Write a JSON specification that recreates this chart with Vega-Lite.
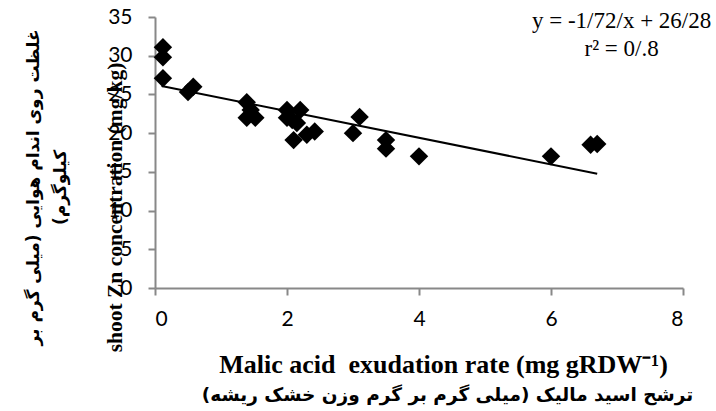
{
  "$schema": "https://vega.github.io/schema/vega-lite/v6.json",
  "width": 528,
  "height": 271,
  "autosize": {"type": "none"},
  "padding": {"left": 155, "top": 17, "right": 33, "bottom": 123},
  "background": "white",
  "config": {"view": {"stroke": null}},
  "datasets": {
    "points": [
      {"rate": 0.12, "zn": 31.1}, {"rate": 0.12, "zn": 29.8}, {"rate": 0.12, "zn": 27.1},
      {"rate": 0.5, "zn": 25.3}, {"rate": 0.58, "zn": 26.0},
      {"rate": 1.39, "zn": 24.0}, {"rate": 1.45, "zn": 23.0}, {"rate": 1.39, "zn": 22.0}, {"rate": 1.52, "zn": 22.0},
      {"rate": 2.0, "zn": 23.0}, {"rate": 2.2, "zn": 23.0}, {"rate": 2.0, "zn": 22.0}, {"rate": 2.08, "zn": 21.7},
      {"rate": 2.15, "zn": 21.3}, {"rate": 2.1, "zn": 19.1}, {"rate": 2.3, "zn": 19.8}, {"rate": 2.42, "zn": 20.2},
      {"rate": 3.1, "zn": 22.1}, {"rate": 3.0, "zn": 20.0},
      {"rate": 3.5, "zn": 19.1}, {"rate": 3.5, "zn": 18.0},
      {"rate": 4.0, "zn": 17.0}, {"rate": 6.0, "zn": 17.0},
      {"rate": 6.6, "zn": 18.5}, {"rate": 6.7, "zn": 18.6}
    ],
    "trend": [
      {"rate": 0.1, "zn": 26.1},
      {"rate": 6.7, "zn": 14.76}
    ],
    "note": [
      {"label": "equation"}
    ]
  },
  "layer": [
    {
      "data": {"name": "points"},
      "mark": {"type": "point", "shape": "diamond", "filled": true, "color": "black", "opacity": 1, "size": 340},
      "encoding": {
        "x": {
          "field": "rate", "type": "quantitative",
          "scale": {"domain": [0, 8], "nice": false, "zero": true},
          "axis": {
            "orient": "bottom", "values": [0, 2, 4, 6, 8], "grid": false,
            "domainColor": "#888888", "domainWidth": 2, "tickColor": "#888888", "tickWidth": 2, "tickSize": 7,
            "labelFont": "Lato", "labelFontSize": 21, "labelColor": "#000000", "labelPadding": 13,
            "title": "Malic acid\u00a0 exudation rate (mg gRDW⁻¹)",
            "titleFont": "Liberation Serif", "titleFontWeight": "bold", "titleFontSize": 26, "titleColor": "#000000",
            "titleX": 288, "titleY": 84, "titleBaseline": "alphabetic", "titleAlign": "center"
          }
        },
        "y": {
          "field": "zn", "type": "quantitative",
          "scale": {"domain": [0, 35], "nice": false, "zero": true},
          "axis": {
            "orient": "left", "values": [0, 5, 10, 15, 20, 25, 30, 35], "grid": false,
            "domainColor": "#888888", "domainWidth": 2, "tickColor": "#888888", "tickWidth": 2, "tickSize": 7,
            "labelFont": "Lato", "labelFontSize": 21, "labelColor": "#000000", "labelPadding": 16,
            "title": "shoot Zn concentration (mg/kg)",
            "titleFont": "Liberation Serif", "titleFontWeight": "bold", "titleFontSize": 21.5, "titleColor": "#000000",
            "titleX": -34, "titleY": 190, "titleBaseline": "alphabetic", "titleAlign": "center", "titleAngle": -90
          }
        }
      }
    },
    {
      "data": {"name": "trend"},
      "mark": {"type": "line", "color": "black", "strokeWidth": 2},
      "encoding": {
        "x": {
          "field": "rate", "type": "quantitative",
          "scale": {"domain": [0, 8], "nice": false, "zero": true},
          "axis": {
            "orient": "bottom", "labels": false, "ticks": false, "domain": false, "grid": false,
            "title": "ترشح اسید مالیک (میلی گرم بر گرم وزن خشک ریشه)‏",
            "titleFont": "DejaVu Sans", "titleFontWeight": "bold", "titleFontSize": 18.5, "titleColor": "#000000",
            "titleX": 292, "titleY": 112, "titleBaseline": "alphabetic", "titleAlign": "center"
          }
        },
        "y": {
          "field": "zn", "type": "quantitative",
          "scale": {"domain": [0, 35], "nice": false, "zero": true},
          "axis": {
            "orient": "left", "labels": false, "ticks": false, "domain": false, "grid": false,
            "title": ["غلظت روی اندام هوایی (میلی گرم بر", "کیلوگرم)‏"],
            "titleFont": "DejaVu Sans", "titleFontWeight": "bold", "titleFontSize": 17, "titleColor": "#000000",
            "titleLineHeight": 27,
            "titleX": -117, "titleY": 170, "titleBaseline": "alphabetic", "titleAlign": "center", "titleAngle": -90
          }
        }
      }
    },
    {
      "data": {"name": "note"},
      "mark": {"type": "text", "font": "Liberation Serif", "fontSize": 23, "color": "black", "align": "center", "baseline": "alphabetic", "lineHeight": 28},
      "encoding": {
        "x": {"datum": 7.07, "type": "quantitative", "scale": {"domain": [0, 8], "nice": false, "zero": true}, "axis": null},
        "y": {"datum": 33.6, "type": "quantitative", "scale": {"domain": [0, 35], "nice": false, "zero": true}, "axis": null},
        "text": {"value": ["y = -1/72/x + 26/28", "r² = 0/.8"]}
      }
    }
  ],
  "resolve": {"axis": {"x": "independent", "y": "independent"}}
}
